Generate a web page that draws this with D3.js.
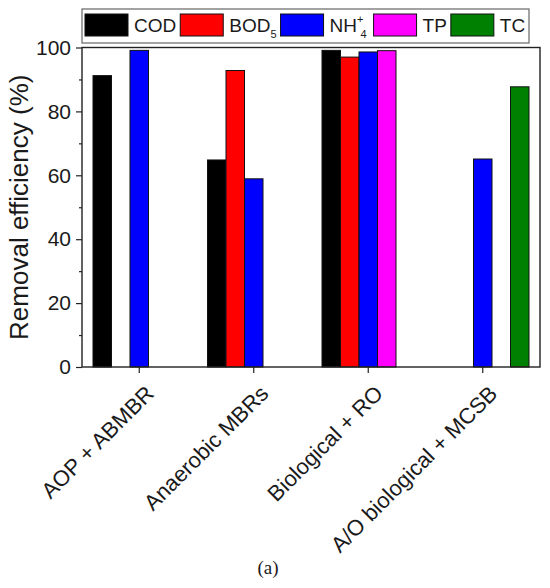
<!DOCTYPE html>
<html>
<head>
<meta charset="utf-8">
<script src="https://cdn.jsdelivr.net/npm/d3@7"></script>
<style>
  body { margin: 0; background: #fff; }
  text { font-family: "Liberation Sans", Arial, sans-serif; fill: #1a1a1a; }
</style>
</head>
<body>
<svg id="chart" width="550" height="588"></svg>
<script>
// categories along the x axis
var categories = ["AOP + ABMBR", "Anaerobic MBRs", "Biological + RO", "A/O biological + MCSB"];

// series values (null = no bar)
var codValues = [91.2, 64.8, 99.1, null];
var bodValues = [null, 92.8, 97.0, null];
var nh4Values = [99.1, 58.9, 98.6, 65.1];
var tpValues  = [null, null, 99.0, null];
var tcValues  = [null, null, null, 87.7];

var seriesNames = ["COD", "BOD5", "NH4", "TP", "TC"];
var seriesColors = ["#000000", "#ff0000", "#0000ff", "#ff00ff", "#008000"];
var yTicks = [0, 20, 40, 60, 80, 100];
var yMinorTicks = [10, 30, 50, 70, 90];

var allSeries = [codValues, bodValues, nh4Values, tpValues, tcValues];

var svg = d3.select("#chart");
var plotLeft = 82, plotRight = 540, plotTop = 47.5, plotBottom = 367;

var x = d3.scaleBand().domain(categories).range([plotLeft, plotRight]).padding(0);
var groupWidth = 92.5;
var xInner = d3.scaleBand().domain(seriesNames).range([0, groupWidth]).padding(0);
var y = d3.scaleLinear().domain([0, 100]).range([plotBottom, plotTop]);

// build flat list of bars
var bars = [];
allSeries.forEach(function(vals, si) {
  vals.forEach(function(v, ci) {
    if (v != null) bars.push({cat: categories[ci], name: seriesNames[si], color: seriesColors[si], value: v});
  });
});

svg.append("g").selectAll("rect")
  .data(bars)
  .enter()
  .append("rect")
  .attr("x", function(d) { return x(d.cat) + x.bandwidth() / 2 - groupWidth / 2 + xInner(d.name); })
  .attr("y", function(d) { return y(d.value); })
  .attr("width", xInner.bandwidth())
  .attr("height", function(d) { return y(0) - y(d.value); })
  .attr("fill", function(d) { return d.color; })
  .attr("stroke", "#111")
  .attr("stroke-width", 1);

// frame
svg.append("rect")
  .attr("x", plotLeft).attr("y", plotTop)
  .attr("width", plotRight - plotLeft).attr("height", plotBottom - plotTop)
  .attr("fill", "none").attr("stroke", "#222").attr("stroke-width", 1.4);

// y axis
var yAxis = svg.append("g")
  .attr("transform", "translate(" + plotLeft + ",0)")
  .call(d3.axisLeft(y).tickValues(yTicks).tickSize(6).tickPadding(5));
yAxis.select(".domain").remove();
yAxis.selectAll("line").attr("stroke", "#222").attr("stroke-width", 1.2);
yAxis.selectAll("text").style("font-size", "21px").attr("fill", "#1a1a1a");

var yMinor = svg.append("g")
  .attr("transform", "translate(" + plotLeft + ",0)")
  .call(d3.axisLeft(y).tickValues(yMinorTicks).tickSize(3).tickFormat(""));
yMinor.select(".domain").remove();
yMinor.selectAll("line").attr("stroke", "#222").attr("stroke-width", 1.2);

// x axis ticks
var xAxis = svg.append("g")
  .attr("transform", "translate(0," + plotBottom + ")")
  .call(d3.axisBottom(x).tickSize(6).tickFormat(""));
xAxis.select(".domain").remove();
xAxis.selectAll("line").attr("stroke", "#222").attr("stroke-width", 1.2);

// rotated category labels
svg.append("g").selectAll("text")
  .data(categories)
  .enter()
  .append("text")
  .attr("transform", function(d) {
    return "translate(" + (x(d) + x.bandwidth() / 2 + 16) + "," + (plotBottom + 28) + ") rotate(-45)";
  })
  .attr("text-anchor", "end")
  .style("font-size", "22px")
  .text(function(d) { return d; });

// y title
svg.append("text")
  .attr("transform", "translate(28," + ((plotTop + plotBottom) / 2) + ") rotate(-90)")
  .attr("text-anchor", "middle")
  .style("font-size", "26px")
  .text("Removal efficiency (%)");

// legend
var legend = svg.append("g");
legend.append("rect")
  .attr("x", 82).attr("y", 9).attr("width", 447).attr("height", 34)
  .attr("fill", "#fff").attr("stroke", "#666").attr("stroke-width", 1.2);

var lx = 85;
seriesNames.forEach(function(name, i) {
  legend.append("rect")
    .attr("x", lx).attr("y", 14).attr("width", 43).attr("height", 22)
    .attr("fill", seriesColors[i]).attr("stroke", "#111").attr("stroke-width", 1);
  lx += 43 + 6;
  var t = legend.append("text").attr("x", lx).attr("y", 32).style("font-size", "19px");
  if (name === "BOD5") {
    t.append("tspan").text("BOD");
    t.append("tspan").attr("dy", 6).style("font-size", "11px").text("5");
  } else if (name === "NH4") {
    t.append("tspan").text("NH");
    t.append("tspan").attr("dy", -9).style("font-size", "11px").text("+");
    t.append("tspan").attr("dy", 15).attr("dx", -3).style("font-size", "11px").text("4");
  } else {
    t.text(name);
  }
  lx += t.node().getComputedTextLength() + 4;
});

// caption
svg.append("text")
  .attr("x", 268).attr("y", 574)
  .attr("text-anchor", "middle")
  .style("font-family", "'Liberation Serif', 'Times New Roman', serif")
  .style("font-size", "19px")
  .text("(a)");
</script>
</body>
</html>
